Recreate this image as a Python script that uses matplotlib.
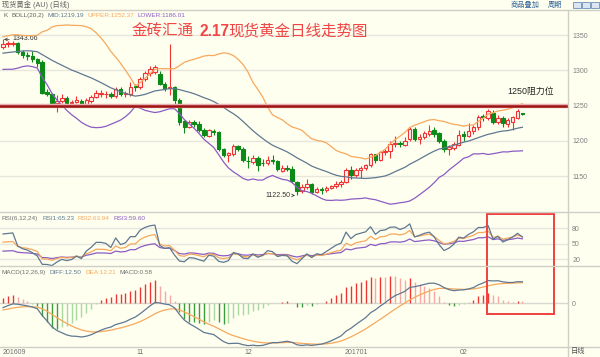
import numpy as np
import pandas as pd
import matplotlib
matplotlib.use("Agg")
import matplotlib.pyplot as plt
from matplotlib.patches import Rectangle
from matplotlib.lines import Line2D

plt.rcParams['font.family'] = ['Liberation Sans', 'Noto Sans CJK SC', 'DejaVu Sans']

# ---------------- data ----------------
dates = pd.bdate_range('2016-09-22', '2017-02-17')   # 107 daily bars

# closes before the first visible bar (only used to warm up the indicators)
prior_close = [1346, 1338, 1335, 1339, 1347, 1349, 1349, 1341, 1338, 1340, 1325,
               1324, 1321, 1323, 1312, 1308, 1313, 1326, 1327, 1350, 1347, 1334,
               1328, 1328, 1323, 1322, 1311, 1310, 1314, 1318, 1334]

open_ = [1333, 1337, 1337, 1339, 1326, 1322, 1320, 1316, 1312, 1269,
         1266, 1253, 1257, 1260, 1254, 1255, 1257, 1251, 1256, 1262,
         1266, 1266, 1267, 1263, 1273, 1266, 1267, 1277, 1276, 1288,
         1296, 1298, 1295, 1281, 1275, 1276, 1258, 1228, 1220, 1226,
         1224, 1216, 1207, 1214, 1212, 1189, 1180, 1181, 1192, 1189,
         1172, 1170, 1176, 1169, 1168, 1173, 1171, 1157, 1161, 1160,
         1142, 1129, 1134, 1139, 1128, 1132, 1130, 1133, 1136, 1139,
         1141, 1158, 1151, 1159, 1162, 1165, 1181, 1173, 1184, 1186,
         1196, 1197, 1194, 1202, 1217, 1202, 1205, 1210, 1216, 1211,
         1199, 1188, 1190, 1194, 1210, 1207, 1214, 1219, 1235, 1233,
         1240, 1227, 1233, 1224, 1227, 1233, 1239]
high = [1343.66, 1341, 1342, 1340, 1329, 1326, 1327, 1318, 1314, 1274,
        1268, 1265, 1266, 1263, 1258, 1264, 1259, 1261, 1265, 1272,
        1272, 1270, 1269, 1276, 1276, 1271, 1284, 1280, 1290, 1299,
        1306, 1308, 1299, 1284, 1337, 1278, 1260, 1230, 1230, 1229,
        1228, 1218, 1217, 1217, 1214, 1190, 1184, 1195, 1194, 1191,
        1178, 1180, 1178, 1174, 1178, 1180, 1173, 1166, 1165, 1164,
        1143, 1139, 1146, 1140, 1135, 1134, 1136, 1138, 1143, 1145,
        1161, 1164, 1162, 1164, 1167, 1183, 1181, 1186, 1189, 1199,
        1207, 1200, 1205, 1219, 1219, 1210, 1214, 1222, 1219, 1212,
        1202, 1194, 1198, 1216, 1214, 1225, 1223, 1237, 1238, 1245,
        1243, 1236, 1235, 1232, 1235, 1245, 1240]
low = [1330, 1333, 1334, 1323, 1318, 1315, 1312, 1305, 1266, 1263,
       1251, 1241, 1254, 1250, 1248, 1253, 1249, 1250, 1254, 1260,
       1262, 1260, 1260, 1261, 1263, 1262, 1263, 1271, 1274, 1285,
       1292, 1295, 1279, 1271, 1265, 1252, 1222, 1211, 1218, 1220,
       1213, 1205, 1205, 1208, 1186, 1177, 1170, 1178, 1185, 1170,
       1161, 1167, 1157, 1164, 1166, 1167, 1157, 1156, 1157, 1140,
       1122.5, 1126, 1132, 1124, 1126, 1125, 1127, 1131, 1133, 1135,
       1140, 1146, 1149, 1147, 1158, 1163, 1169, 1171, 1180, 1175,
       1191, 1191, 1192, 1200, 1199, 1196, 1203, 1207, 1206, 1197,
       1184, 1180, 1187, 1192, 1200, 1205, 1210, 1216, 1228, 1230,
       1224, 1224, 1219, 1220, 1215, 1231, 1236]
close = [1337, 1338, 1339, 1326, 1322, 1320, 1316, 1310, 1268, 1266,
         1253, 1257, 1260, 1254, 1255, 1258, 1251, 1258, 1262, 1268,
         1268, 1267, 1263, 1273, 1266, 1268, 1276, 1276, 1288, 1296,
         1302, 1305, 1281, 1275, 1276, 1258, 1226, 1220, 1226, 1224,
         1216, 1208, 1215, 1212, 1188, 1180, 1182, 1192, 1188, 1173,
         1171, 1176, 1166, 1168, 1173, 1171, 1160, 1161, 1160, 1143,
         1129, 1134, 1139, 1128, 1132, 1130, 1133, 1136, 1139, 1141,
         1158, 1151, 1159, 1162, 1165, 1181, 1173, 1184, 1186, 1196,
         1197, 1195, 1200, 1217, 1202, 1206, 1211, 1214, 1209, 1199,
         1188, 1191, 1196, 1208, 1207, 1214, 1220, 1234, 1234, 1242,
         1227, 1233, 1225, 1229, 1234, 1242, 1238]

month_ticks = [0, 28, 50, 72, 94]
month_labels = ['201609', '11', '12', '201701', '02']
resistance = 1250
high_label, low_label = 1343.66, 1122.50

# ---------------- indicators ----------------
n0 = len(prior_close)
c_all = pd.Series(prior_close + close, dtype=float)
mid_all = c_all.rolling(20).mean()
sd_all = c_all.rolling(20).std(ddof=0)
mid = mid_all.values[n0:]
upper = (mid_all + 2 * sd_all).values[n0:]
lower = (mid_all - 2 * sd_all).values[n0:]

ema12 = c_all.ewm(span=12, adjust=False).mean()
ema26 = c_all.ewm(span=26, adjust=False).mean()
diff_all = ema12 - ema26
dea_all = diff_all.ewm(span=9, adjust=False).mean()
diff = diff_all.values[n0:]
dea = dea_all.values[n0:]
macd = 2 * (diff - dea)


def rsi(n):
    d = c_all.diff()
    up = d.clip(lower=0).ewm(alpha=1 / n, adjust=False).mean()
    dn = d.abs().ewm(alpha=1 / n, adjust=False).mean()
    return (100 * up / dn).values[n0:]


rsi1, rsi2, rsi3 = rsi(6), rsi(12), rsi(24)

# ---------------- figure ----------------
W, H = 600, 357
BG = '#fffff0'
fig = plt.figure(figsize=(6, 3.57), dpi=100, facecolor=BG)


def fx(x):
    return x / W


def fy(y):
    return 1 - y / H


def ax_rect(top, bottom, right=568):
    return [0, fy(bottom), fx(right), (bottom - top) / H]


ax1 = fig.add_axes(ax_rect(10, 212))
ax2 = fig.add_axes(ax_rect(212, 266))
ax3 = fig.add_axes(ax_rect(266, 347))

x = np.arange(len(close))
XL = (-0.61, 115.3)
GRID = '#e6e6dc'
C_MID, C_UP, C_LOW = '#5f7890', '#f7a85c', '#8a5cc4'
UPC, DNC = '#f03434', '#0c8a18'

for ax in (ax1, ax2, ax3):
    ax.set_facecolor(BG)
    ax.set_xlim(*XL)
    for s in ax.spines.values():
        s.set_visible(False)
    ax.yaxis.tick_right()
    ax.tick_params(axis='y', length=0, pad=3, labelsize=5, labelcolor='#808080')
    ax.tick_params(axis='x', length=0)
    ax.set_xticks([])

# ---- main panel ----
ax1.set_ylim(1099, 1385.5)
ax1.set_yticks([1150, 1200, 1250, 1300, 1350])
for v in [1150, 1200, 1300, 1350]:
    ax1.axhline(v, color=GRID, lw=1, zorder=0)

o = np.array(open_, float); c = np.array(close, float)
h = np.array(high, float); l = np.array(low, float)
up = c >= o
cols = np.where(up, UPC, DNC)
ax1.vlines(x, l, h, colors=cols, lw=0.8, zorder=2)
body_b = np.minimum(o, c)
body_h = np.maximum(np.abs(c - o), 0.15)
ax1.bar(x[up], body_h[up], bottom=body_b[up], width=0.72,
        facecolor='#fff4f0', edgecolor=UPC, linewidth=0.8, zorder=3)
ax1.bar(x[~up], body_h[~up], bottom=body_b[~up], width=0.72,
        facecolor=DNC, edgecolor=DNC, linewidth=0.8, zorder=3)

ax1.plot(x, mid, color=C_MID, lw=0.9, zorder=4)
ax1.plot(x, upper, color=C_UP, lw=0.9, zorder=4)
ax1.plot(x, lower, color=C_LOW, lw=0.9, zorder=4)

ax1.axhline(resistance, color='#e8b0b0', lw=3.2, zorder=5)
ax1.axhline(resistance, color='#9e1414', lw=1.8, zorder=5)
ax1.text(112.5, resistance + 20, '1250阻力位', ha='right', va='center',
         fontsize=6.4, color='#222222', zorder=6)

ax1.annotate('%.2f' % high_label, xy=(0.2, high_label), xytext=(1.85, high_label + 1),
             fontsize=5.0, color='#333333', va='center', ha='left',
             arrowprops=dict(arrowstyle='->', color='#333333', lw=0.5,
                             shrinkA=0, shrinkB=0))
ax1.annotate('%.2f' % low_label, xy=(59.6, low_label), xytext=(58.6, low_label),
             fontsize=5.0, color='#333333', va='center', ha='right',
             arrowprops=dict(arrowstyle='->', color='#333333', lw=0.5,
                             shrinkA=0, shrinkB=0))

# ---- RSI panel ----
ax2.set_ylim(6.5, 111)
ax2.set_yticks([20, 50, 80])
for v in [20, 50, 80]:
    ax2.axhline(v, color=GRID, lw=1, zorder=0)
ax2.plot(x, rsi3, color=C_LOW, lw=0.9)
ax2.plot(x, rsi2, color=C_UP, lw=0.9)
ax2.plot(x, rsi1, color=C_MID, lw=0.9)

# ---- MACD panel ----
ax3.set_ylim(-26.5, 22.3)
ax3.set_yticks([0])
ax3.axhline(0, color='#d8d8d0', lw=1, zorder=0)
prev = np.concatenate([[0], macd[:-1]])
grow = np.abs(macd) >= np.abs(prev)
bar_cols = np.where(macd >= 0, np.where(grow, '#f03434', '#f8a8a4'),
                    np.where(grow, '#3c9c3c', '#a8d8a0'))
ax3.vlines(x, 0, macd, colors=bar_cols, lw=1.0, zorder=2)
ax3.plot(x, dea, color=C_UP, lw=0.9, zorder=3)
ax3.plot(x, diff, color=C_MID, lw=0.9, zorder=3)
ax3.set_xticks(month_ticks)
ax3.set_xticklabels(month_labels)
ax3.tick_params(axis='x', labelsize=5, labelcolor='#707070', pad=1.5)
ax3.get_xticklabels()[0].set_ha('left')
ax3.get_xticklabels()[0].set_x(-0.2)

# ---------------- frame lines ----------------
LC = '#cfcfc6'
for yy in (9.5, 212, 266, 347):
    fig.add_artist(Line2D([0, 1], [fy(yy), fy(yy)], color=LC, lw=1))
fig.add_artist(Line2D([fx(568), fx(568)], [fy(9.5), 0], color=LC, lw=1))

# ---------------- texts ----------------
def t(xp, yp, s, color, size=4.6, **kw):
    fig.text(fx(xp), fy(yp), s, color=color, fontsize=size, va='center', ha='left', **kw)


t(2, 4.5, '现货黄金 (AU) (日线)', '#606060', 5.2)
t(511, 5, '商品叠加', '#336699', 5.2)
t(548, 5, '周期', '#336699', 5.2)
for xi in (573, 582, 591):
    fig.add_artist(Rectangle((fx(xi), fy(8)), 8 / W, 6 / H, transform=fig.transFigure,
                             facecolor='#dbe6f2', edgecolor='#6a8fb8', lw=0.6))

t(3, 15.5, 'K', '#606060')
t(11, 15.5, 'BOLL(20,2)', '#606060')
t(48, 15.5, 'MID:1219.19', C_MID)
t(88, 15.5, 'UPPER:1252.37', C_UP)
t(137, 15.5, 'LOWER:1186.01', C_LOW)

t(2, 218, 'RSI(6,12,24)', '#707070')
t(42, 218, 'RSI1:65.23', C_MID)
t(78, 218, 'RSI2:63.94', C_UP)
t(113, 218, 'RSI3:59.60', C_LOW)

t(2, 272.5, 'MACD(12,26,9)', '#707070')
t(50, 272.5, 'DIFF:12.50', C_MID)
t(86, 272.5, 'DEA:12.21', C_UP)
t(119, 272.5, 'MACD:0.58', '#707070')

t(571, 352, '日线', '#505050', 5.2)

# title
TC = '#f04646'
t(132, 31, '金砖汇通', TC, 11.2)
t(199, 31, '2.17', TC, 11.2, fontweight='bold')
t(228, 31, '现货黄金日线走势图', TC, 11.2)

# highlight rectangle
fig.add_artist(Rectangle((fx(487), fy(314)), (554 - 487) / W, (314 - 214) / H,
                         transform=fig.transFigure, fill=False,
                         edgecolor='#f04040', lw=1.4))

fig.savefig('out.png', dpi=100, facecolor=BG)
